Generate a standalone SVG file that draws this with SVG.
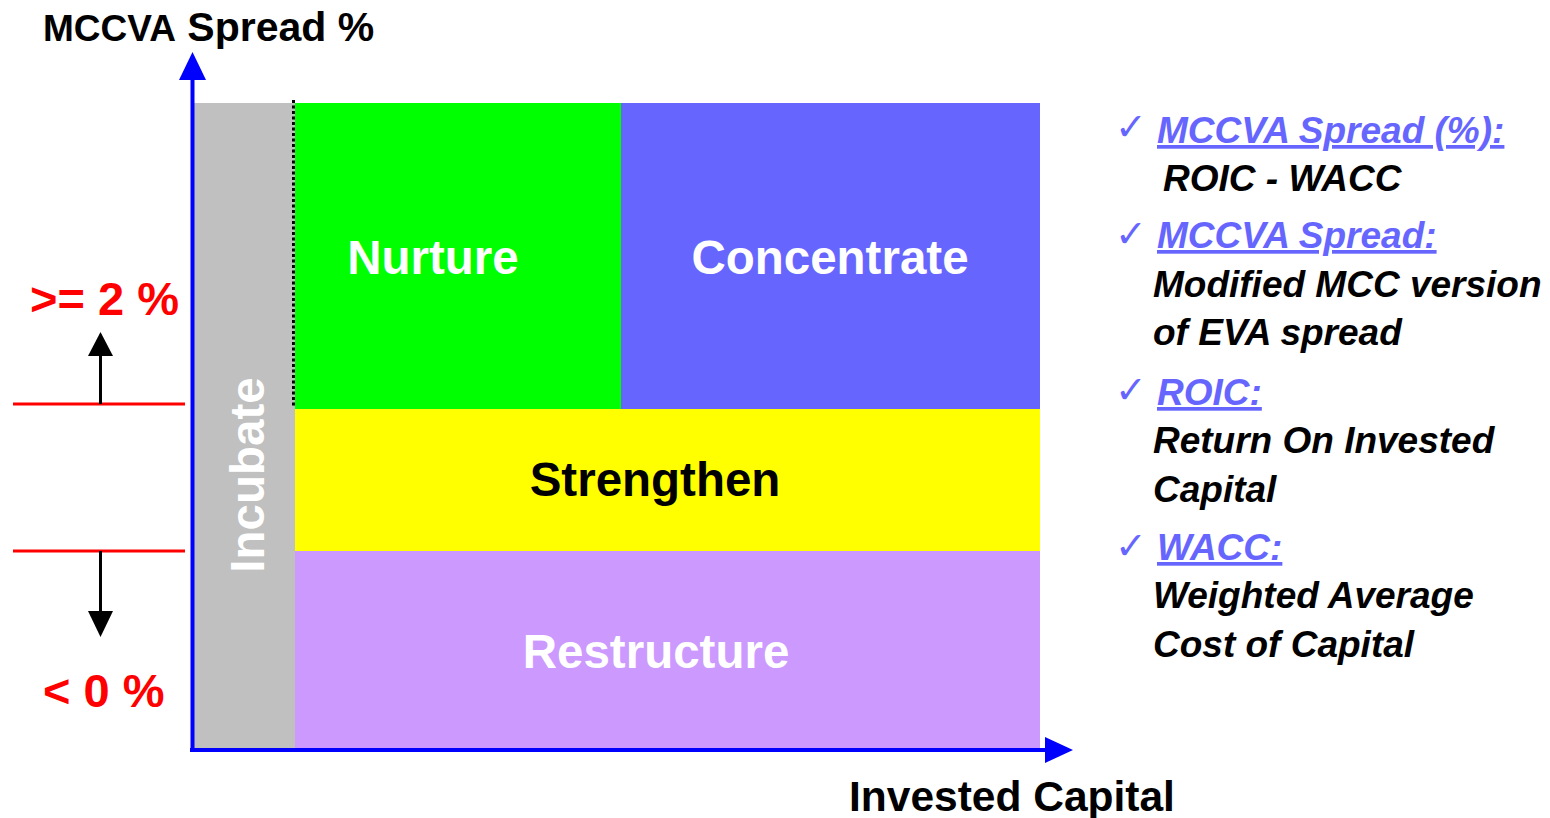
<svg xmlns="http://www.w3.org/2000/svg" width="1550" height="818" viewBox="0 0 1550 818">
  <style>
    .b { font-family: "Liberation Sans", Arial, sans-serif; font-weight: bold; }
    .cell { font-size: 47.5px; text-anchor: middle; }
    .w { fill: #FFFFFF; }
    .k { fill: #000000; }
    .red { fill: #FF0000; font-size: 47px; }
    .note { font-family: "Liberation Sans", Arial, sans-serif; font-weight: bold; font-style: italic; font-size: 37px; fill: #000000; }
    .head { fill: #6666FF; text-decoration: underline; }
    .tick { font-family: "DejaVu Sans", sans-serif; font-size: 38px; fill: #6666FF; }
    .axis { stroke: #0000FF; stroke-width: 4; fill: none; }
    .lim { stroke: #FF0000; stroke-width: 3; }
    .dir { stroke: #000000; stroke-width: 3; }
  </style>

  <!-- axis titles -->
  <text class="b" x="43" y="41"><tspan font-size="37">MCCVA</tspan><tspan font-size="41"> Spread %</tspan></text>
  <text class="b" x="849" y="811" font-size="42.5">Invested Capital</text>

  <!-- matrix cells -->
  <g id="incubate">
    <rect x="194" y="103" width="101" height="645" fill="#C0C0C0"/>
    <text class="b cell w" transform="translate(264,475) rotate(-90)">Incubate</text>
  </g>
  <g id="nurture">
    <rect x="295" y="103" width="326" height="306" fill="#00FF00"/>
    <text class="b cell w" x="433" y="274">Nurture</text>
  </g>
  <g id="concentrate">
    <rect x="621" y="103" width="419" height="306" fill="#6666FF"/>
    <text class="b cell w" x="830" y="274">Concentrate</text>
  </g>
  <g id="strengthen">
    <rect x="295" y="409" width="745" height="142" fill="#FFFF00"/>
    <text class="b cell k" x="655" y="496">Strengthen</text>
  </g>
  <g id="restructure">
    <rect x="295" y="551" width="745" height="197" fill="#CC99FF"/>
    <text class="b cell w" x="656" y="668">Restructure</text>
  </g>

  <!-- dotted divider beside incubate column -->
  <line x1="293.5" y1="100" x2="293.5" y2="406" stroke="#000000" stroke-width="3" stroke-dasharray="3 2.5"/>

  <!-- threshold labels -->
  <g id="threshold-high">
    <text class="b red" x="30" y="315">&gt;= 2 %</text>
  </g>
  <g id="threshold-low">
    <text class="b red" x="43" y="707">&lt; 0 %</text>
  </g>

  <g id="connectors">
    <!-- axes -->
    <line class="axis" x1="192.5" y1="78" x2="192.5" y2="752"/>
    <polygon points="179,80 206,80 192.5,52" fill="#0000FF"/>
    <line class="axis" x1="190" y1="750" x2="1047" y2="750"/>
    <polygon points="1045,737 1045,763 1073,750" fill="#0000FF"/>
    <!-- threshold lines -->
    <line class="lim" x1="13" y1="404" x2="185" y2="404"/>
    <line class="lim" x1="13" y1="551" x2="185" y2="551"/>
    <!-- direction arrows -->
    <line class="dir" x1="100.5" y1="404" x2="100.5" y2="354"/>
    <polygon points="88,356 113,356 100.5,332" fill="#000000"/>
    <line class="dir" x1="100.5" y1="551" x2="100.5" y2="613"/>
    <polygon points="88,611 113,611 100.5,637" fill="#000000"/>
  </g>

  <!-- definitions -->
  <g id="definitions">
    <text class="tick" x="1115" y="140">✓</text>
    <text class="note head" x="1157" y="143">MCCVA Spread (%):</text>
    <text class="note" x="1163" y="191">ROIC - WACC</text>

    <text class="tick" x="1115" y="247">✓</text>
    <text class="note head" x="1157" y="248">MCCVA Spread:</text>
    <text class="note" x="1153" y="297">Modified MCC version</text>
    <text class="note" x="1153" y="345">of EVA spread</text>

    <text class="tick" x="1115" y="403">✓</text>
    <text class="note head" x="1157" y="405">ROIC:</text>
    <text class="note" x="1153" y="453">Return On Invested</text>
    <text class="note" x="1153" y="502">Capital</text>

    <text class="tick" x="1115" y="559">✓</text>
    <text class="note head" x="1157" y="560">WACC:</text>
    <text class="note" x="1153" y="608">Weighted Average</text>
    <text class="note" x="1153" y="657">Cost of Capital</text>
  </g>
</svg>
